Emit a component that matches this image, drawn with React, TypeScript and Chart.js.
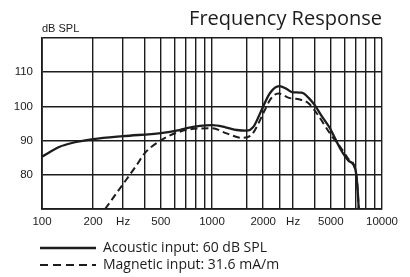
import React, { useEffect, useRef } from 'react';
import { Chart, registerables } from 'chart.js';

Chart.register(...registerables);

const chartTitle = 'Frequency Response';
const yUnitLabel = 'dB SPL';

const acousticLabel = 'Acoustic input: 60 dB SPL';
const acousticFreq = [100, 127, 150, 200, 300, 500, 630, 700, 850, 1000, 1200, 1400, 1600, 1750, 2000, 2200, 2480, 2750, 2950, 3370, 3700, 4000, 4440, 4940, 5670, 6330, 6950, 7150, 7300];
const acousticDb = [85.3, 88.2, 89.3, 90.4, 91.3, 92.2, 93.0, 93.6, 94.3, 94.5, 93.9, 93.1, 92.9, 94.0, 100.0, 104.0, 105.9, 105.1, 104.2, 104.0, 102.5, 100.5, 97.0, 93.6, 87.7, 84.2, 81.8, 77.3, 70];

const magneticLabel = 'Magnetic input: 31.6 mA/m';
const magneticFreq = [235, 300, 360, 400, 500, 620, 740, 1000, 1220, 1500, 1700, 2050, 2200, 2450, 2830, 3290, 3680, 4130, 4940, 5670, 6330, 6950, 7150, 7300];
const magneticDb = [70, 77.3, 82.8, 86.2, 90.1, 92.3, 93.3, 93.6, 92.1, 90.8, 91.6, 99, 102, 103.8, 102.5, 102, 101, 98, 92.1, 88.2, 84.7, 81.8, 77.3, 70];

const xGridValues = [100, 200, 300, 400, 500, 600, 700, 800, 900, 1000, 1600, 2000, 2500, 3000, 4000, 5000, 6000, 7000, 8000, 9000, 10000];
const xLabelValues = [100, 200, 300, 500, 1000, 2000, 3000, 5000, 10000];
const xLabelTexts = ['100', '200', 'Hz', '500', '1000', '2000', 'Hz', '5000', '10000'];

const yGridValues = [70, 80, 90, 100, 110, 120];
const yLabelValues = [80, 90, 100, 110];

const INK = '#1c1c1c';
const TICK_FONT = '"Liberation Sans", Arial, sans-serif';
const LEGEND_DASHES = [[], [8, 5]];
const LEGEND_WIDTHS = [2.6, 2.2];

const unitLabelPlugin = {
  id: 'unitLabel',
  afterLayout(chart: any) {
    // start the legend rows under the y-axis labels, as in the reference
    const lg = chart.legend;
    if (lg) lg.left = chart.chartArea.left - 5;
  },
  afterDraw(chart: any) {
    const { ctx, chartArea } = chart;
    ctx.save();
    ctx.font = '11px ' + TICK_FONT;
    ctx.fillStyle = INK;
    ctx.textAlign = 'left';
    ctx.textBaseline = 'alphabetic';
    ctx.fillText(yUnitLabel, chartArea.left, chartArea.top - 6.5);
    ctx.restore();
  },
};

export default function App() {
  const canvasRef = useRef<HTMLCanvasElement | null>(null);

  useEffect(() => {
    document.body.style.margin = '0';
    const canvas = canvasRef.current;
    if (!canvas) return;
    const chart = new Chart(canvas, {
      type: 'line',
      data: {
        datasets: [
          {
            label: acousticLabel,
            data: acousticFreq.map((f, i) => ({ x: f, y: acousticDb[i] })),
            borderColor: INK,
            backgroundColor: INK,
            borderWidth: 2.3,
            pointRadius: 0,
            cubicInterpolationMode: 'monotone',
          },
          {
            label: magneticLabel,
            data: magneticFreq.map((f, i) => ({ x: f, y: magneticDb[i] })),
            borderColor: INK,
            backgroundColor: INK,
            borderWidth: 2,
            borderDash: [7, 4],
            pointRadius: 0,
            cubicInterpolationMode: 'monotone',
          },
        ],
      },
      options: {
        animation: false,
        responsive: true,
        maintainAspectRatio: false,
        layout: { padding: { left: 0, right: 28, top: 0, bottom: -5 } },
        plugins: {
          title: {
            display: true,
            text: chartTitle,
            align: 'end',
            color: INK,
            font: { family: '"Open Sans"', size: 20, weight: 'normal', lineHeight: 1.2 },
            padding: { top: 7.5, bottom: 6.5 },
          },
          legend: {
            display: true,
            position: 'bottom',
            align: 'start',
            labels: {
              usePointStyle: true,
              pointStyle: 'line',
              pointStyleWidth: 56,
              padding: 3,
              color: INK,
              font: { family: '"Open Sans"', size: 14 },
              generateLabels: (c: any) =>
                Chart.defaults.plugins.legend.labels.generateLabels(c).map((item: any, i: number) => ({
                  ...item,
                  pointStyle: 'line',
                  strokeStyle: INK,
                  lineDash: LEGEND_DASHES[i] || [],
                  lineWidth: LEGEND_WIDTHS[i] || 2,
                })),
            },
          },
          tooltip: { enabled: false },
        },
        scales: {
          x: {
            type: 'logarithmic',
            min: 100,
            max: 10000,
            afterFit: (scale: any) => { scale.height = 29; },
            afterBuildTicks: (scale: any) => { scale.ticks = xGridValues.map((v) => ({ value: v })); },
            grid: { color: INK, lineWidth: 1.4, drawTicks: false },
            border: { color: INK, width: 1.8 },
            ticks: {
              autoSkip: false,
              maxRotation: 0,
              minRotation: 0,
              padding: 6,
              color: INK,
              font: { family: TICK_FONT, size: 11.5 },
              callback: (value: any) => {
                const idx = xLabelValues.indexOf(Number(value));
                return idx >= 0 ? xLabelTexts[idx] : '';
              },
            },
          },
          y: {
            type: 'linear',
            min: 70,
            max: 120,
            afterFit: (scale: any) => { scale.width = 42; },
            afterBuildTicks: (scale: any) => { scale.ticks = yGridValues.map((v) => ({ value: v })); },
            grid: { color: INK, lineWidth: 1.4, drawTicks: false },
            border: { color: INK, width: 1.8 },
            ticks: {
              padding: 9,
              color: INK,
              font: { family: TICK_FONT, size: 11.5 },
              callback: (value: any) => (yLabelValues.includes(Number(value)) ? String(value) : ''),
            },
          },
        },
      },
      plugins: [unitLabelPlugin],
    } as any);
    return () => chart.destroy();
  }, []);

  return (
    <div style={{ width: '410px', height: '277px', position: 'relative' }}>
      <canvas ref={canvasRef} />
    </div>
  );
}
